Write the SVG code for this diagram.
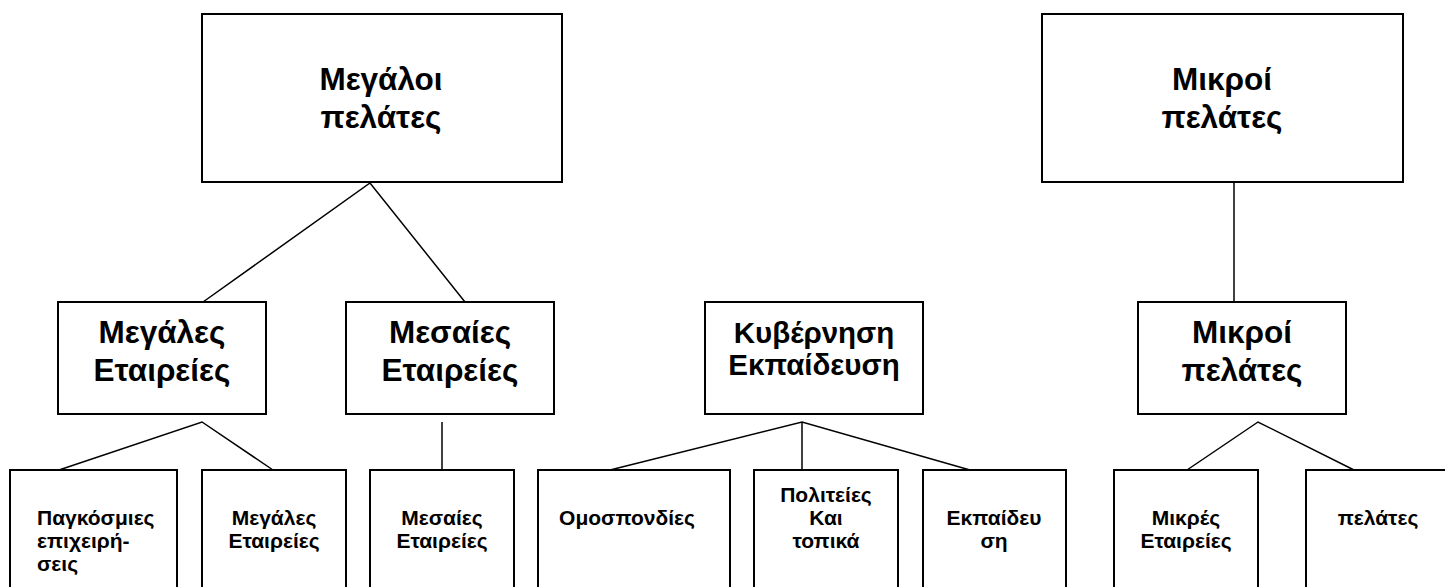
<svg xmlns="http://www.w3.org/2000/svg" width="1445" height="587" viewBox="0 0 1445 587">
<style>
.box{fill:#fff;stroke:#000;stroke-width:2}
.ln{fill:none;stroke:#000;stroke-width:1.5}
text{font-family:"Liberation Sans",Arial,sans-serif;font-weight:bold;fill:#000;text-anchor:middle}
.big{font-size:31.5px}
.mid{font-size:29.5px}
.sm{font-size:21px}
</style>
<rect width="1445" height="587" fill="#fff"/>
<g id="connectors">
<polyline class="ln" points="203,302 370,183 465,302"/>
<polyline class="ln" points="59,470 202,422 273,470"/>
<line class="ln" x1="442" y1="422" x2="442" y2="470"/>
<polyline class="ln" points="610,470 802,422 970,470"/>
<line class="ln" x1="802" y1="422" x2="802" y2="470"/>
<line class="ln" x1="1234" y1="182" x2="1234" y2="302"/>
<polyline class="ln" points="1187,470 1258,422 1354,470"/>
</g>
<g id="n-megaloi">
<rect class="box" x="202" y="14" width="360" height="168"/>
<text class="big" x="381" y="90">Μεγάλοι</text>
<text class="big" x="381" y="128">πελάτες</text>
</g>
<g id="n-mikroi-top">
<rect class="box" x="1042" y="14" width="361" height="168"/>
<text class="big" x="1222" y="90">Μικροί</text>
<text class="big" x="1222" y="128">πελάτες</text>
</g>
<g id="n-megales">
<rect class="box" x="58" y="302" width="208" height="112"/>
<text class="big" x="162" y="343">Μεγάλες</text>
<text class="big" x="162" y="381">Εταιρείες</text>
</g>
<g id="n-mesaies">
<rect class="box" x="346" y="302" width="208" height="112"/>
<text class="big" x="450" y="343">Μεσαίες</text>
<text class="big" x="450" y="381">Εταιρείες</text>
</g>
<g id="n-kyvernisi">
<rect class="box" x="705" y="302" width="218" height="112"/>
<text class="mid" x="814" y="343">Κυβέρνηση</text>
<text class="mid" x="814" y="375">Εκπαίδευση</text>
</g>
<g id="n-mikroi-mid">
<rect class="box" x="1138" y="302" width="208" height="112"/>
<text class="big" x="1242" y="343">Μικροί</text>
<text class="big" x="1242" y="381">πελάτες</text>
</g>
<g id="n-pagkosmies">
<rect class="box" x="10" y="470" width="167" height="130"/>
<text class="sm" x="37" y="525" style="text-anchor:start">Παγκόσμιες</text>
<text class="sm" x="37" y="548" style="text-anchor:start">επιχειρή-</text>
<text class="sm" x="37" y="571" style="text-anchor:start">σεις</text>
</g>
<g id="n-megales-sm">
<rect class="box" x="202" y="470" width="144" height="130"/>
<text class="sm" x="274" y="525">Μεγάλες</text>
<text class="sm" x="274" y="548">Εταιρείες</text>
</g>
<g id="n-mesaies-sm">
<rect class="box" x="370" y="470" width="144" height="130"/>
<text class="sm" x="442" y="525">Μεσαίες</text>
<text class="sm" x="442" y="548">Εταιρείες</text>
</g>
<g id="n-omospondies">
<rect class="box" x="538" y="470" width="192" height="130"/>
<text class="sm" x="627" y="525">Ομοσπονδίες</text>
</g>
<g id="n-politeies">
<rect class="box" x="754" y="470" width="144" height="130"/>
<text class="sm" x="826" y="502">Πολιτείες</text>
<text class="sm" x="826" y="525">Και</text>
<text class="sm" x="826" y="548">τοπικά</text>
</g>
<g id="n-ekpaideusi">
<rect class="box" x="923" y="470" width="143" height="130"/>
<text class="sm" x="994" y="525">Εκπαίδευ</text>
<text class="sm" x="994" y="548">ση</text>
</g>
<g id="n-mikres">
<rect class="box" x="1114" y="470" width="144" height="130"/>
<text class="sm" x="1186" y="525">Μικρές</text>
<text class="sm" x="1186" y="548">Εταιρείες</text>
</g>
<g id="n-pelates">
<rect class="box" x="1306" y="470" width="150" height="130"/>
<text class="sm" x="1378" y="525">πελάτες</text>
</g>
</svg>
